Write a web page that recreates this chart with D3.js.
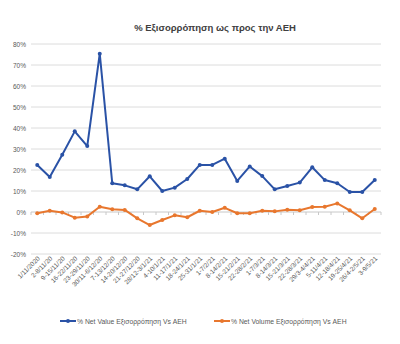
<!DOCTYPE html>
<html><head><meta charset="utf-8">
<script src="https://cdn.jsdelivr.net/npm/d3@7"></script>
<style>
html,body{margin:0;padding:0;background:#fff;}
svg{display:block;font-family:"Liberation Sans",Arial,sans-serif;}
</style></head>
<body>
<svg id="c" width="400" height="344"></svg>
<script>
const categories = ["1/11/2020","2-8/11/20","9-15/11/20","16-22/11/20","23-29/11/20","30/11-6/12/20","7-13/12/20","14-20/12/20","21-27/12/20","28/12-3/1/21","4-10/1/21","11-17/1/21","18-24/1/21","25-31/1/21","1-7/2/21","8-14/2/21","15-21/2/21","22-28/2/21","1-7/3/21","8-14/3/21","15-21/3/21","22-28/3/21","29/3-4/4/21","5-11/4/21","12-18/4/21","19-25/4/21","26/4-2/5/21","3-9/5/21"];
const netValue = [22.4,16.7,27.3,38.4,31.4,75.4,13.7,12.7,10.8,17.0,10.0,11.6,15.7,22.4,22.4,25.4,14.8,21.7,17.1,10.8,12.4,14.0,21.3,15.2,13.7,9.5,9.5,15.2];
const netVolume = [-0.6,0.6,-0.2,-2.7,-2.1,2.5,1.3,1.0,-3.0,-6.2,-3.8,-1.6,-2.5,0.6,0.0,2.0,-0.6,-0.6,0.6,0.3,1.1,0.8,2.4,2.5,4.1,0.8,-3.0,1.4];
const yTicks = [-20,-10,0,10,20,30,40,50,60,70,80];
const seriesNames = ["% Net Value Εξισορρόπηση Vs ΑΕΗ","% Net Volume Εξισορρόπηση Vs ΑΕΗ"];
const colors = ["#2a52a6","#e8772e"];
const title = "% Εξισορρόπηση ως προς την ΑΕΗ";

const svg = d3.select("#c");
const L=31, R=381, T=44, B=254;
const x = d3.scaleBand().domain(categories).range([L,R]);
const y = d3.scaleLinear().domain([-20,80]).range([B,T]);

svg.append("text").attr("x",215).attr("y",31).attr("text-anchor","middle")
  .attr("font-size",9.5).attr("font-weight","bold").attr("fill","#404040").text(title);

// gridlines
svg.append("g").selectAll("line").data(yTicks).join("line")
  .attr("x1",L).attr("x2",R).attr("y1",d=>y(d)).attr("y2",d=>y(d))
  .attr("stroke",d=>d===0?"#c8c8c8":"#dcdcdc").attr("stroke-width",1);
svg.append("g").selectAll("text").data(yTicks).join("text")
  .attr("x",L-5).attr("y",d=>y(d)+2.5).attr("text-anchor","end")
  .attr("font-size",6.5).attr("fill","#595959").text(d=>d+"%");

// category ticks on zero line
const bounds = categories.map(c=>x(c)).concat([R]);
svg.append("g").selectAll("line").data(bounds).join("line")
  .attr("x1",d=>d).attr("x2",d=>d).attr("y1",y(0)).attr("y2",y(0)+3)
  .attr("stroke","#c8c8c8");

// x labels
svg.append("g").selectAll("text").data(categories).join("text")
  .attr("transform",c=>`translate(${x(c)+x.bandwidth()/2+3},${B+5}) rotate(-45)`)
  .attr("text-anchor","end").attr("font-size",6.5).attr("fill","#595959").text(c=>c);

const line = d3.line().x((d,i)=>x(categories[i])+x.bandwidth()/2).y(d=>y(d));
[netValue, netVolume].forEach((s,k)=>{
  svg.append("path").datum(s).attr("d",line).attr("fill","none")
    .attr("stroke",colors[k]).attr("stroke-width",2).attr("stroke-linejoin","round");
  svg.append("g").selectAll("circle").data(s).join("circle")
    .attr("cx",(d,i)=>x(categories[i])+x.bandwidth()/2).attr("cy",d=>y(d))
    .attr("r",2).attr("fill",colors[k]);
});

// legend
const lx=[60,214];
seriesNames.forEach((n,k)=>{
  const g=svg.append("g").attr("transform",`translate(${lx[k]},321)`);
  g.append("line").attr("x1",0).attr("x2",16).attr("stroke",colors[k]).attr("stroke-width",2);
  g.append("circle").attr("cx",8).attr("r",2).attr("fill",colors[k]);
  g.append("text").attr("x",17).attr("y",2.5).attr("font-size",6.8).attr("fill","#595959").text(n);
});
</script>
</body></html>
